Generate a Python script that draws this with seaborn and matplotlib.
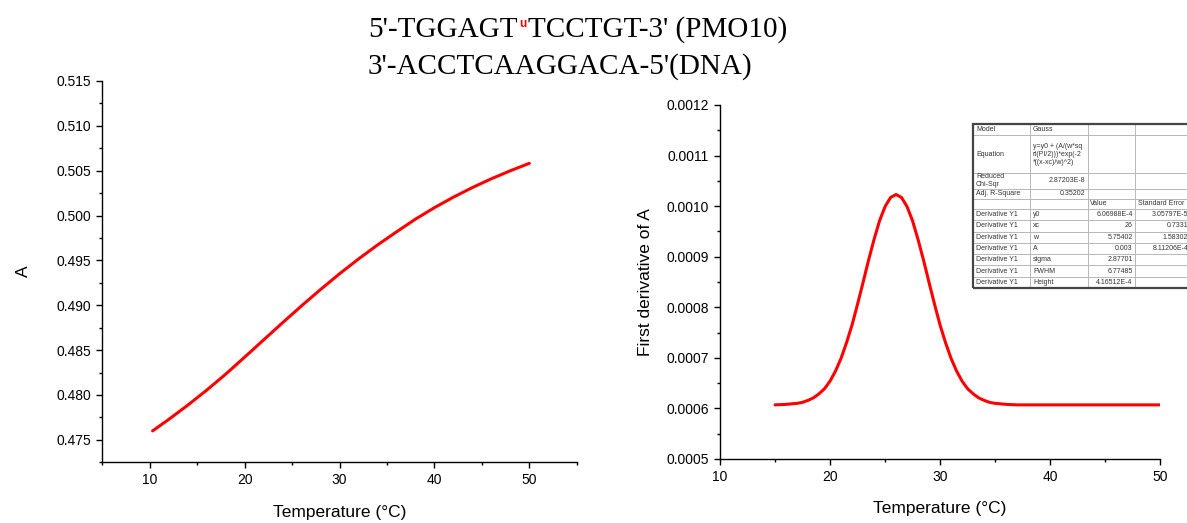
import numpy as np
import pandas as pd
import matplotlib
matplotlib.use("Agg")
import matplotlib.pyplot as plt
import seaborn as sns
from matplotlib.ticker import MultipleLocator, FormatStrFormatter
from matplotlib.patches import Rectangle

# ---------- data ----------
temp_abs = [10.3, 12, 14, 16, 18, 20, 22, 24, 26, 28, 30, 32, 34, 36, 38, 40, 42, 44, 46, 48, 50]
absorb = [0.4760, 0.47728, 0.47886, 0.48054, 0.48232, 0.48422, 0.48614, 0.48806, 0.48994,
          0.49176, 0.49351, 0.49516, 0.49672, 0.49818, 0.49960, 0.50088, 0.50205, 0.50312,
          0.50410, 0.50499, 0.50582]

temp_deriv = [15, 16, 16.5, 17, 17.5, 18, 18.5, 19, 19.5, 20, 20.5, 21, 21.5, 22, 22.5, 23, 23.5,
              24, 24.5, 25, 25.5, 26, 26.5, 27, 27.5, 28, 28.5, 29, 29.5, 30, 30.5, 31, 31.5,
              32, 32.5, 33, 33.5, 34, 34.5, 35, 36, 37, 40, 45, 50]
deriv = [0.000607, 0.000608, 0.000609, 0.000610, 0.000612, 0.000616, 0.000621, 0.000629, 0.000639,
         0.000654, 0.000674, 0.000699, 0.000730, 0.000765, 0.000806, 0.000849, 0.000893,
         0.000934, 0.000971, 0.000999, 0.001017, 0.001023, 0.001017, 0.000999, 0.000971,
         0.000934, 0.000893, 0.000849, 0.000806, 0.000765, 0.000730, 0.000699, 0.000674,
         0.000654, 0.000639, 0.000629, 0.000621, 0.000616, 0.000612, 0.000610, 0.000608,
         0.000607, 0.000607, 0.000607, 0.000607]

# fit report table (Origin style)
fit_rows = [
    ["Model", "Gauss", "", ""],
    ["Equation", "y=y0 + (A/(w*sq\nrt(PI/2)))*exp(-2\n*((x-xc)/w)^2)", "", ""],
    ["Reduced\nChi-Sqr", "2.87203E-8", "", ""],
    ["Adj. R-Square", "0.35202", "", ""],
    ["", "", "Value", "Standard Error"],
]
param_names = ["y0", "xc", "w", "A", "sigma", "FWHM", "Height"]
param_values = ["6.06988E-4", "26", "5.75402", "0.003", "2.87701", "6.77485", "4.16512E-4"]
param_errors = ["3.05797E-5", "0.7331", "1.58302", "8.11206E-4", "", "", ""]

df_abs = pd.DataFrame({"T": temp_abs, "A": absorb})
df_der = pd.DataFrame({"T": temp_deriv, "dA": deriv})

# ---------- style ----------
sns.set_theme(style="ticks")
plt.rcParams["font.family"] = ["Liberation Sans", "DejaVu Sans"]
plt.rcParams.update({
    "axes.linewidth": 1.0,
    "xtick.major.size": 4.5, "ytick.major.size": 4.5,
    "xtick.minor.size": 2.5, "ytick.minor.size": 2.5,
    "xtick.major.width": 1.0, "ytick.major.width": 1.0,
    "xtick.minor.width": 1.0, "ytick.minor.width": 1.0,
    "xtick.color": "black", "ytick.color": "black",
    "xtick.labelcolor": "black", "ytick.labelcolor": "black",
    "axes.edgecolor": "black", "axes.labelcolor": "black", "text.color": "black",
    "xtick.labelsize": 10, "ytick.labelsize": 10,
})

fig = plt.figure(figsize=(11.87, 5.23), dpi=100)
ax1 = fig.add_axes([0.0862, 0.1161, 0.3997, 0.7291])
ax2 = fig.add_axes([0.6066, 0.1224, 0.3707, 0.6769])

# ---------- left: absorbance ----------
sns.lineplot(data=df_abs, x="T", y="A", ax=ax1, color="#ff0000", linewidth=2.2, estimator=None)
ax1.set_xlim(5, 55)
ax1.set_ylim(0.4725, 0.515)
ax1.xaxis.set_major_locator(MultipleLocator(10))
ax1.xaxis.set_minor_locator(MultipleLocator(5))
ax1.yaxis.set_major_locator(MultipleLocator(0.005))
ax1.yaxis.set_minor_locator(MultipleLocator(0.0025))
ax1.yaxis.set_major_formatter(FormatStrFormatter("%.3f"))
ax1.set_xlabel("Temperature (°C)", fontsize=12.5, labelpad=13)
ax1.set_ylabel("A", fontsize=12.5, labelpad=18)
sns.despine(ax=ax1)

# ---------- right: first derivative ----------
sns.lineplot(data=df_der, x="T", y="dA", ax=ax2, color="#ff0000", linewidth=2.2, estimator=None)
ax2.set_xlim(10, 50)
ax2.set_ylim(0.0005, 0.0012)
ax2.xaxis.set_major_locator(MultipleLocator(10))
ax2.xaxis.set_minor_locator(MultipleLocator(5))
ax2.yaxis.set_major_locator(MultipleLocator(0.0001))
ax2.yaxis.set_minor_locator(MultipleLocator(0.00005))
ax2.yaxis.set_major_formatter(FormatStrFormatter("%.4f"))
ax2.set_xlabel("Temperature (°C)", fontsize=12.5, labelpad=12)
ax2.set_ylabel("First derivative of A", fontsize=12.5, labelpad=10)
sns.despine(ax=ax2)

# fit table
cells = fit_rows + [["Derivative Y1", n, v, e] for n, v, e in zip(param_names, param_values, param_errors)]
row_h = [11, 37, 15, 10, 10] + [11] * len(param_names)
col_w = [57, 58, 47, 56]
tb_box = [0.575, 0.483, 0.4955, 0.4633]
tbl = ax2.table(cellText=cells, colWidths=[w / sum(col_w) for w in col_w],
                cellLoc="left", bbox=tb_box)
tbl.auto_set_font_size(False)
tbl.set_fontsize(5)
for (r, c), cell in tbl.get_celld().items():
    cell.set_height(row_h[r] / sum(row_h))
    cell.set_edgecolor("#b8b8b8")
    cell.set_linewidth(0.7)
    cell.PAD = 0.05
    txt = cell.get_text()
    txt.set_color("#333333")
    if (c == 1 and r in (2, 3)) or (c >= 2 and r >= 5):
        txt.set_horizontalalignment("right")
ax2.add_patch(Rectangle((tb_box[0], tb_box[1]), tb_box[2], tb_box[3], transform=ax2.transAxes,
                        fill=False, edgecolor="#444444", linewidth=1.6, clip_on=False, zorder=5))

# ---------- title: two lines of the duplex ----------
title_font = dict(fontsize=21, family=["Liberation Serif", "DejaVu Serif"], va="baseline", color="black")
x0 = 368 / 1187
y1, y2 = 1 - 37 / 523, 1 - 74 / 523
ta = fig.text(x0, y1, "5'-TGGAGT", **title_font)
tu = fig.text(x0, y1 + 10 / 523, "u", fontsize=8.5, fontweight="bold", color="#ff0000", va="baseline")
tb = fig.text(x0, y1, "TCCTGT-3' (PMO10)", **title_font)
fig.text(x0, y2, "3'-ACCTCAAGGACA-5'(DNA)", **title_font)

renderer = fig.canvas.get_renderer()
fw = fig.bbox.width
wa = ta.get_window_extent(renderer).width
wu = tu.get_window_extent(renderer).width
tu.set_x(x0 + (wa + 1.5) / fw)
tb.set_x(x0 + (wa + wu + 3) / fw)

fig.savefig("out.png", dpi=100)
